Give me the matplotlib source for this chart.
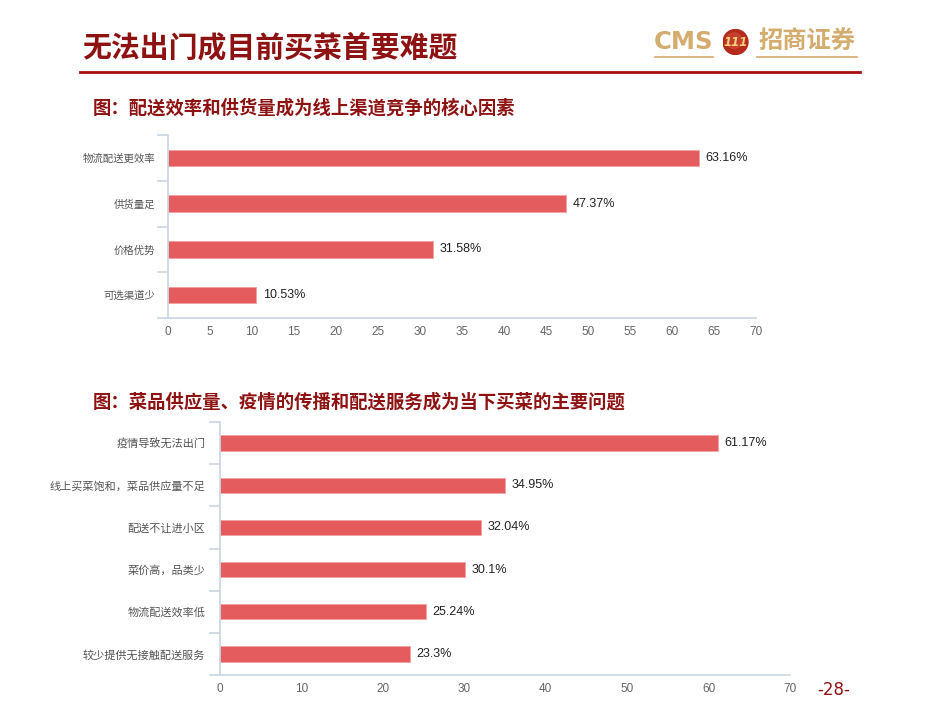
import matplotlib
matplotlib.use("Agg")
import matplotlib.pyplot as plt
from matplotlib.patches import Circle
from matplotlib.lines import Line2D

plt.rcParams['font.family'] = ['Noto Sans CJK SC', 'DejaVu Sans']

# ---- data ----
cats1 = ["物流配送更效率", "供货量足", "价格优势", "可选渠道少"]
vals1 = [63.16, 47.37, 31.58, 10.53]
labels1 = ["63.16%", "47.37%", "31.58%", "10.53%"]
xticks1 = [0, 5, 10, 15, 20, 25, 30, 35, 40, 45, 50, 55, 60, 65, 70]

cats2 = ["疫情导致无法出门", "线上买菜饱和，菜品供应量不足", "配送不让进小区",
         "菜价高，品类少", "物流配送效率低", "较少提供无接触配送服务"]
vals2 = [61.17, 34.95, 32.04, 30.1, 25.24, 23.3]
labels2 = ["61.17%", "34.95%", "32.04%", "30.1%", "25.24%", "23.3%"]
xticks2 = [0, 10, 20, 30, 40, 50, 60, 70]

title = "无法出门成目前买菜首要难题"
sub1 = "图：配送效率和供货量成为线上渠道竞争的核心因素"
sub2 = "图：菜品供应量、疫情的传播和配送服务成为当下买菜的主要问题"

BAR = "#E55C5E"
AX = "#C9D5E4"
DARKRED = "#8E1212"
GOLD = "#D4AC6E"

fig = plt.figure(figsize=(9.31, 7.01), dpi=100)
W, H = 931, 701

def fx(x): return x / W
def fy(y): return 1 - y / H

# header
fig.text(fx(82), fy(47), title, fontsize=20.8, fontweight='bold', color=DARKRED,
         va='center', ha='left')
fig.add_artist(Line2D([fx(80), fx(860)], [fy(72), fy(72)], color="#A40F0F", lw=2))
fig.text(fx(654), fy(42), "CMS", fontsize=17.5, fontweight='bold', color=GOLD,
         va='center', ha='left', family=['DejaVu Sans'])
fig.add_artist(Line2D([fx(655), fx(713)], [fy(57), fy(57)], color=GOLD, lw=1.2))
fig.add_artist(Line2D([fx(757), fx(857)], [fy(57), fy(57)], color=GOLD, lw=1.2))
fig.text(fx(759), fy(42), "招商证券", fontsize=17.5, fontweight='bold', color=GOLD,
         va='center', ha='left')
logo = fig.add_axes([fx(722), fy(55), fx(27), 26 / H])
logo.set_xlim(0, 1); logo.set_ylim(0, 1); logo.set_aspect('equal'); logo.axis('off')
logo.add_patch(Circle((0.5, 0.5), 0.48, color="#B52A1C"))
logo.add_patch(Circle((0.45, 0.55), 0.3, color="#D2553A", alpha=0.5))
logo.text(0.5, 0.48, "111", color="#F3D27A", fontsize=8.5, fontweight='bold',
          style='italic', ha='center', va='center', family=['DejaVu Sans'])

fig.text(fx(93), fy(108), sub1, fontsize=13.2, fontweight='bold', color=DARKRED,
         va='center', ha='left')
fig.text(fx(93), fy(402), sub2, fontsize=13.2, fontweight='bold', color=DARKRED,
         va='center', ha='left')
fig.text(fx(817), fy(690), "-28-", fontsize=12, color=DARKRED, va='center', ha='left',
         family=['DejaVu Sans'])


def draw(ax, cats, vals, labels, xticks, cat_fs, pad):
    n = len(cats)
    y = list(range(n))
    ax.barh(y, vals, height=0.36, color=BAR, edgecolor="#F2A0A0", linewidth=0.6)
    ax.set_ylim(n - 0.5, -0.5)
    ax.set_xlim(0, 70)
    for yi, v, lab in zip(y, vals, labels):
        ax.text(v + 0.8, yi, lab, va='center', ha='left', fontsize=9, color="#222222",
                family=['Liberation Sans', 'DejaVu Sans'])
    ax.set_yticks(y)
    ax.set_yticklabels(cats, fontsize=cat_fs, color="#555555")
    ax.tick_params(axis='y', which='major', length=0, pad=pad)
    ax.set_yticks([i - 0.5 for i in range(n + 1)], minor=True)
    ax.tick_params(axis='y', which='minor', length=8, color=AX, width=1.2)
    ax.set_xticks(xticks)
    ax.set_xticklabels([str(t) for t in xticks], fontsize=8.5, color="#666666",
                       family=['Liberation Sans', 'DejaVu Sans'])
    ax.tick_params(axis='x', length=0, pad=6)
    for s in ['top', 'right']:
        ax.spines[s].set_visible(False)
    for s in ['left', 'bottom']:
        ax.spines[s].set_color(AX)
        ax.spines[s].set_linewidth(1.2)
    ax.set_facecolor('none')


ax1 = fig.add_axes([fx(168), fy(318), fx(756) - fx(168), (318 - 135) / H])
draw(ax1, cats1, vals1, labels1, xticks1, 7.5, 9)

ax2 = fig.add_axes([fx(220), fy(675), fx(790) - fx(220), (675 - 422) / H])
draw(ax2, cats2, vals2, labels2, xticks2, 8, 10.5)

fig.savefig("out.png", dpi=100)
